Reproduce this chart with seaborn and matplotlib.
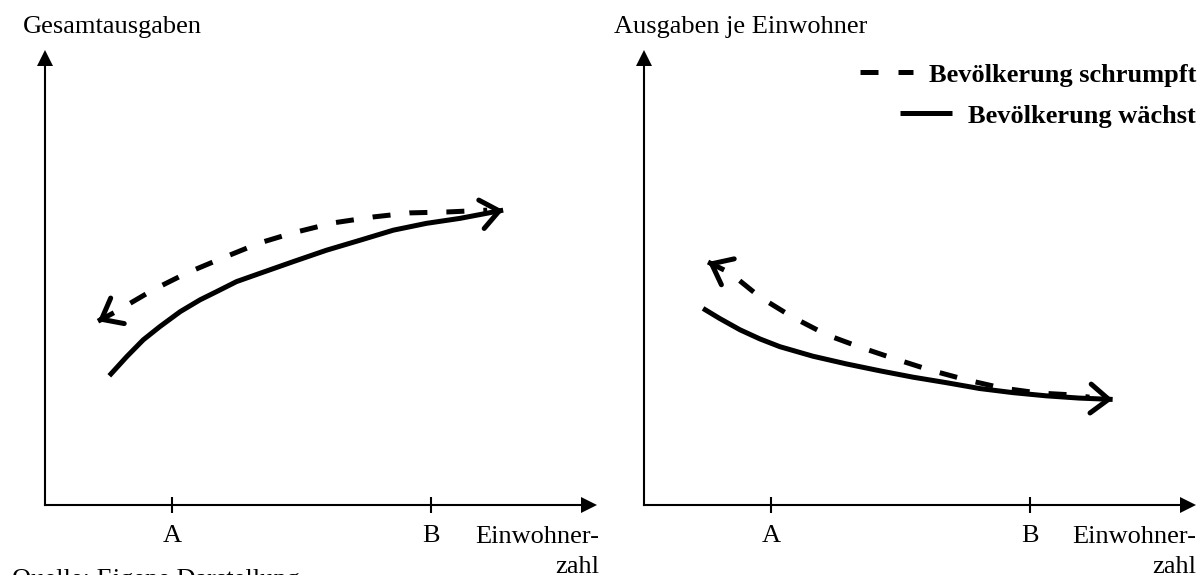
import numpy as np
import pandas as pd
import matplotlib
matplotlib.use("Agg")
import matplotlib.pyplot as plt
from matplotlib.lines import Line2D
import seaborn as sns

# ---------------- data ----------------
tick_pos = [2.3, 7.0]
tick_labels = ["A", "B"]

left_grow_x = [1.165, 1.48, 1.78, 2.08, 2.45, 2.81, 3.11, 3.47, 3.89, 4.50, 5.10, 5.71, 6.31, 6.91, 7.52, 8.30]
left_grow_y = [2.84, 3.26, 3.63, 3.92, 4.25, 4.51, 4.69, 4.91, 5.09, 5.35, 5.60, 5.82, 6.04, 6.19, 6.30, 6.48]
left_shrink_x = [0.96, 1.27, 1.96, 2.57, 3.22, 3.89, 4.49, 5.22, 5.94, 6.61, 7.28, 8.01]
left_shrink_y = [4.04, 4.24, 4.73, 5.10, 5.43, 5.76, 5.98, 6.20, 6.33, 6.42, 6.44, 6.48]

right_grow_x = [1.07, 1.37, 1.74, 2.10, 2.46, 3.06, 3.67, 4.27, 4.87, 5.47, 6.08, 6.68, 7.28, 7.88, 8.49]
right_grow_y = [4.32, 4.10, 3.85, 3.65, 3.48, 3.27, 3.10, 2.95, 2.81, 2.69, 2.56, 2.47, 2.40, 2.35, 2.32]
right_shrink_x = [1.16, 1.56, 2.10, 2.69, 3.31, 3.91, 4.50, 5.17, 5.84, 6.49, 7.16, 7.76, 8.07]
right_shrink_y = [5.34, 5.10, 4.57, 4.13, 3.74, 3.47, 3.23, 2.97, 2.75, 2.57, 2.46, 2.42, 2.37]

label_shrink = "Bevölkerung schrumpft"
label_grow = "Bevölkerung wächst"
ylabel_left = "Gesamtausgaben"
ylabel_right = "Ausgaben je Einwohner"
xlabel_1 = "Einwohner-"
xlabel_2 = "zahl"
source = "Quelle: Eigene Darstellung"

# ---------------- style ----------------
sns.set_theme(style="white")
plt.rcParams["font.family"] = ["Liberation Serif", "DejaVu Serif"]
FS = 19
LW = 3.6
AX_LW = 1.5
DASH = (3.6, 3.8)

W, H = 1203, 575
fig = plt.figure(figsize=(W / 100, H / 100), dpi=100)


def px_axes(x0, x1, y_top, y_bottom):
    return fig.add_axes([x0 / W, (H - y_bottom) / H, (x1 - x0) / W, (y_bottom - y_top) / H])


def style_axes(ax, xmax, ymax):
    ax.set_xlim(0, xmax)
    ax.set_ylim(0, ymax)
    for s in ["top", "right"]:
        ax.spines[s].set_visible(False)
    for s in ["left", "bottom"]:
        ax.spines[s].set_visible(True)
        ax.spines[s].set_color("black")
        ax.spines[s].set_linewidth(AX_LW)
    ax.set_facecolor("white")
    ax.grid(False)
    ax.set_xticks(tick_pos, tick_labels)
    ax.set_yticks([])
    ax.tick_params(axis="x", direction="inout", length=11.5, width=AX_LW,
                   pad=8.6, labelsize=FS, bottom=True, colors="black")
    ax.plot(1, 0, ">", ms=11.5, mew=0, color="black", transform=ax.transAxes, clip_on=False)
    ax.plot(0, 1, "^", ms=11.5, mew=0, color="black", transform=ax.transAxes, clip_on=False)
    ax.set_xlabel("")
    ax.set_ylabel("")


def curve(ax, xs, ys, dashed):
    df = pd.DataFrame({"x": xs, "y": ys})
    kw = dict(color="black", lw=LW, solid_joinstyle="round", solid_capstyle="butt",
              dash_capstyle="butt", dash_joinstyle="round")
    if dashed:
        kw["linestyle"] = (0, DASH)
    sns.lineplot(data=df, x="x", y="y", ax=ax, sort=False, estimator=None, **kw)


def head(ax, xs, ys, i_tip, i_prev):
    tip = (xs[i_tip], ys[i_tip])
    prev = (xs[i_prev], ys[i_prev])
    start = (tip[0] + 0.2 * (prev[0] - tip[0]), tip[1] + 0.2 * (prev[1] - tip[1]))
    ax.annotate("", xy=tip, xytext=start,
                arrowprops=dict(arrowstyle="->,head_length=0.65,head_width=0.52",
                                mutation_scale=20, lw=LW, color="black",
                                shrinkA=0, shrinkB=0))


XS, YS = 55.2, 45.5  # pixels per data unit

# left panel
ax1 = px_axes(45, 589, 58, 505)
curve(ax1, left_grow_x, left_grow_y, False)
curve(ax1, left_shrink_x, left_shrink_y, True)
style_axes(ax1, (589 - 45) / XS, (505 - 58) / YS)
head(ax1, left_grow_x, left_grow_y, -1, -2)
head(ax1, left_shrink_x, left_shrink_y, 0, 1)

# right panel
ax2 = px_axes(644, 1188, 58, 505)
curve(ax2, right_grow_x, right_grow_y, False)
curve(ax2, right_shrink_x, right_shrink_y, True)
style_axes(ax2, (1188 - 644) / XS, (505 - 58) / YS)
head(ax2, right_grow_x, right_grow_y, -1, -2)
head(ax2, right_shrink_x, right_shrink_y, 0, 1)

# legends (right aligned rows)
h_shrink = Line2D([], [], color="black", lw=LW, linestyle=(0, (3.6, 4.0)), dash_capstyle="butt")
h_grow = Line2D([], [], color="black", lw=LW, solid_capstyle="butt")
common = dict(loc="center right", bbox_transform=fig.transFigure, frameon=False,
              handlelength=2.0, handletextpad=0.6, borderpad=0, borderaxespad=0,
              prop={"weight": "bold", "size": FS, "family": ["Liberation Serif", "DejaVu Serif"]})
leg1 = ax2.legend([h_shrink], [label_shrink], bbox_to_anchor=(1196 / W, 1 - 75 / H), **common)
ax2.add_artist(leg1)
leg2 = ax2.legend([h_grow], [label_grow], bbox_to_anchor=(1196 / W, 1 - 116 / H), **common)
for leg in (leg1, leg2):
    for t in leg.get_texts():
        t.set_color("black")

# texts
def ftext(x, y, s, **kw):
    fig.text(x / W, 1 - y / H, s, fontsize=FS, va="baseline", color="black", **kw)

ftext(23, 33, ylabel_left)
ftext(614, 33, ylabel_right)
ftext(599, 543, xlabel_1, ha="right")
ftext(599, 573, xlabel_2, ha="right")
ftext(1196, 543, xlabel_1, ha="right")
ftext(1196, 573, xlabel_2, ha="right")
ftext(12, 586, source)

fig.savefig("out.png", dpi=100, facecolor="white")
